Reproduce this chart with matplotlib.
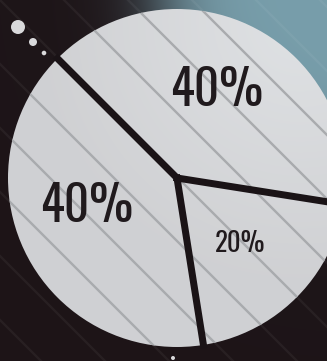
import numpy as np
import matplotlib
matplotlib.use("Agg")
import matplotlib.pyplot as plt
from matplotlib.patches import Circle, Rectangle

# Data
shares = [40, 40, 20]
share_labels = [f"{v}%" for v in shares]

# Canvas (pixel-based coordinate system, y pointing up)
W, H = 327, 361
DPI = 192
PX = 72.0 / DPI  # one pixel in points

plt.rcParams["hatch.linewidth"] = 2.4 * PX
plt.rcParams["hatch.color"] = "#a9abae"

fig = plt.figure(figsize=(W / DPI, H / DPI), dpi=DPI)
ax = fig.add_axes([0, 0, 1, 1])


def py(y):
    """Convert a top-down pixel row to axis y."""
    return H - y


# Background: dark plum base with a teal glow in the upper-right corner
yy, xx = np.mgrid[0:H, 0:W]
d = np.hypot(xx - 345.0, yy + 15.0)
glow = 1.0 / (1.0 + np.exp((d - 185.0) / 22.0))
dark = np.array([0.115, 0.082, 0.094])
teal = np.array([0.47, 0.62, 0.67])
bg = dark[None, None, :] * (1 - glow[..., None]) + teal[None, None, :] * glow[..., None]
ax.imshow(bg, extent=(0, W, 0, H), origin="upper", zorder=0, interpolation="bilinear")

# faint diagonal stripes across the background
ax.add_patch(Rectangle((0, 0), W, H, facecolor="none", edgecolor=(1, 1, 1, 0.05),
                       linewidth=0, hatch="\\", zorder=0.5))

# Pie geometry
cx, cy, R = 177.0, py(178.0), 169.0

# soft light-grey fill, slightly brighter toward the upper right
fill_d = np.hypot(xx - 300.0, yy - 20.0)
t = np.clip(1 - fill_d / 260.0, 0, 1)
c0 = np.array([0.815, 0.818, 0.828])
c1 = np.array([0.875, 0.885, 0.895])
fill = c0[None, None, :] * (1 - t[..., None]) + c1[None, None, :] * t[..., None]
im = ax.imshow(fill, extent=(0, W, 0, H), origin="upper", zorder=1, interpolation="bilinear")
clip_circle = Circle((cx, cy), R, transform=ax.transData)
im.set_clip_path(clip_circle)

wedges, _ = ax.pie(
    shares,
    startangle=-9,
    counterclock=True,
    radius=R,
    center=(cx, cy),
    frame=True,
    wedgeprops=dict(facecolor="none", edgecolor="#a9abae", linewidth=0, hatch="\\"),
)
for w in wedges:
    w.set_zorder(2)
ax.set_xlim(0, W)
ax.set_ylim(0, H)
ax.set_aspect("equal")
ax.set_axis_off()

# Dark separators along each wedge boundary
sep_color = "#1a1316"
for w in wedges:
    a = np.deg2rad(w.theta1)
    ax.plot([cx, cx + R * np.cos(a)], [cy, cy + R * np.sin(a)],
            color=sep_color, linewidth=7 * PX, solid_capstyle="projecting", zorder=3)

# Percentage labels
label_pos = [(217, 90), (87, 207), (240, 244)]
label_size = [18.5, 18.5, 10]
for txt, (lx, ly), fs in zip(share_labels, label_pos, label_size):
    ax.text(lx, py(ly), txt, ha="center", va="center", fontsize=fs,
            color="#201a1d", fontweight="medium",
            family=["Oswald", "DejaVu Sans"], zorder=4)

# Decorative dots
for (dx, dy, r) in [(18, 27, 7), (33, 42, 4), (44, 53, 2.3), (173, 358, 2)]:
    ax.add_patch(Circle((dx, py(dy)), r, facecolor="#d9d9db", edgecolor="none", zorder=4))

fig.savefig("out.png", dpi=DPI)
